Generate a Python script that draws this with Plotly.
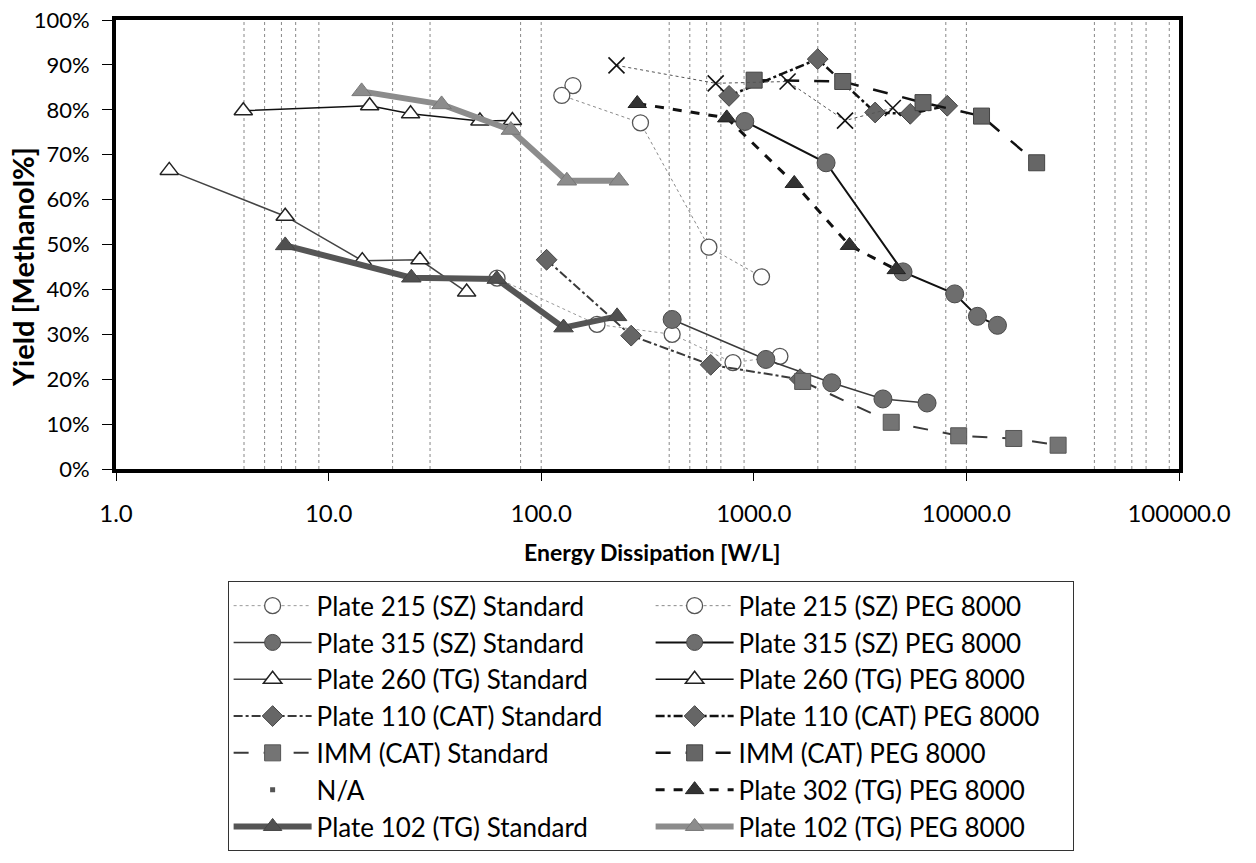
import plotly.graph_objects as go

# ---- data (Energy Dissipation [W/L], Yield [%]) ----
p215_std_x = [62, 183, 413, 798, 1327]
p215_std_y = [42.5, 32.2, 30.0, 23.7, 25.1]
p215_peg_x = [141, 125, 293, 615, 1087]
p215_peg_y = [85.4, 83.2, 77.1, 49.4, 42.8]
p315_std_x = [413, 1140, 2325, 4050, 6530]
p315_std_y = [33.3, 24.4, 19.2, 15.6, 14.7]
p315_peg_x = [907, 2187, 5034, 8810, 11270, 14000]
p315_peg_y = [77.4, 68.2, 43.9, 39.0, 34.0, 32.0]
p260_std_x = [1.78, 6.25, 14.4, 26.9, 44.6]
p260_std_y = [66.5, 56.3, 46.4, 46.6, 39.4]
p260_peg_x = [3.97, 15.6, 24.3, 51.5, 73.2]
p260_peg_y = [79.8, 80.9, 79.1, 77.5, 77.6]
p110_std_x = [106, 265, 627, 1650]
p110_std_y = [46.6, 29.7, 23.2, 20.0]
p110_peg_x = [765, 1998, 3722, 5444, 8128]
p110_peg_y = [83.1, 91.3, 79.4, 79.1, 80.9]
imm_std_x = [1698, 4430, 9200, 16700, 27000]
imm_std_y = [19.5, 10.4, 7.4, 6.8, 5.3]
imm_peg_x = [1004, 2620, 6250, 11780, 21400]
imm_peg_y = [86.6, 86.3, 81.6, 78.6, 68.2]
na_x = [226, 662, 1442, 2686, 4508]
na_y = [89.9, 85.9, 86.3, 77.6, 80.4]
p302_peg_x = [283, 746, 1550, 2818, 4677]
p302_peg_y = [81.4, 78.2, 63.6, 49.8, 44.4]
p102_std_x = [6.25, 24.5, 61.8, 127.4, 227.5]
p102_std_y = [49.8, 42.6, 42.3, 31.5, 34.0]
p102_peg_x = [14.3, 34, 72, 132, 232]
p102_peg_y = [84.1, 81.2, 75.5, 64.2, 64.2]

grid_x = [4, 5, 6, 7, 9, 20, 30, 80, 100, 400, 500, 600, 700, 900,
          2000, 3000, 8000, 10000, 40000, 50000, 60000, 70000, 90000]
x_tickvals = [1, 10, 100, 1000, 10000, 100000]
x_ticktext = ["1.0", "10.0", "100.0", "1000.0", "10000.0", "100000.0"]
y_tickvals = [0, 10, 20, 30, 40, 50, 60, 70, 80, 90, 100]
y_ticktext = ["0%", "10%", "20%", "30%", "40%", "50%", "60%", "70%", "80%", "90%", "100%"]
x_title = "Energy Dissipation [W/L]"
y_title = "Yield [Methanol%]"

FONT = "Lato, 'Open Sans', sans-serif"

fig = go.Figure()


def add(x, y, name, lcolor, lwidth, dash, symbol, msize, mfill, medge, mew=1.0, showlegend=True):
    fig.add_trace(go.Scatter(
        x=x, y=y, name=name, mode="lines+markers", showlegend=showlegend,
        line=dict(color=lcolor, width=lwidth, dash=dash),
        marker=dict(symbol=symbol, size=msize, color=mfill,
                    line=dict(color=medge, width=mew)),
    ))


add(p215_std_x, p215_std_y, "Plate 215 (SZ) Standard", "#9a9a9a", 1, "dot",
    "circle", 16, "white", "#555", 1.3)
add(p215_peg_x, p215_peg_y, "Plate 215 (SZ) PEG 8000", "#8a8a8a", 1, "dot",
    "circle", 16, "white", "#555", 1.3)
add(p315_std_x, p315_std_y, "Plate 315 (SZ) Standard", "#3a3a3a", 1.5, "solid",
    "circle", 18, "#6e6e6e", "#4a4a4a", 1)
add(p315_peg_x, p315_peg_y, "Plate 315 (SZ) PEG 8000", "#111", 2, "solid",
    "circle", 18, "#6e6e6e", "#4a4a4a", 1)
add(p260_std_x, p260_std_y, "Plate 260 (TG) Standard", "#444", 1.5, "solid",
    "triangle-up", 16, "white", "#222", 1.5)
add(p260_peg_x, p260_peg_y, "Plate 260 (TG) PEG 8000", "#111", 1.5, "solid",
    "triangle-up", 16, "white", "#222", 1.5)
add(p110_std_x, p110_std_y, "Plate 110 (CAT) Standard", "#3a3a3a", 2, "dashdot",
    "diamond", 16, "#666", "#444", 1)
add(p110_peg_x, p110_peg_y, "Plate 110 (CAT) PEG 8000", "#111", 2.5, "dashdot",
    "diamond", 16, "#666", "#444", 1)
add(imm_std_x, imm_std_y, "IMM (CAT) Standard", "#3a3a3a", 2, "longdash",
    "square", 16, "#747474", "#555", 1)
add(imm_peg_x, imm_peg_y, "IMM (CAT) PEG 8000", "#111", 2.5, "longdash",
    "square", 16, "#666", "#444", 1)
# N/A legend entry (small dash symbol)
fig.add_trace(go.Scatter(x=[None], y=[None], name="N/A", mode="markers",
                         marker=dict(symbol="square", size=5, color="#555")))
add(p302_peg_x, p302_peg_y, "Plate 302 (TG) PEG 8000", "#111", 3, "dash",
    "triangle-up", 16, "#333", "#222", 1)
add(p102_std_x, p102_std_y, "Plate 102 (TG) Standard", "#555", 6, "solid",
    "triangle-up", 17, "#505050", "#444", 1)
add(p102_peg_x, p102_peg_y, "Plate 102 (TG) PEG 8000", "#8c8c8c", 6, "solid",
    "triangle-up", 17, "#8c8c8c", "#777", 1)
# X-marker series (no own legend symbol; listed as N/A)
fig.add_trace(go.Scatter(
    x=na_x, y=na_y, name="N/A", mode="lines+markers", showlegend=False,
    line=dict(color="#555", width=1, dash="dot"),
    marker=dict(symbol="x-thin", size=16, line=dict(color="#111", width=1.6)),
))

shapes = [dict(type="line", xref="x", yref="paper", x0=v, x1=v, y0=0, y1=1,
               line=dict(color="#888", width=1, dash="dot"), layer="below")
          for v in grid_x]

annotations = [
    dict(text="<b>%s</b>" % x_title, xref="paper", yref="paper",
         x=0.504, y=-0.185, xanchor="center", yanchor="middle",
         showarrow=False, font=dict(family=FONT, size=23, color="black")),
    dict(text="<b>%s</b>" % y_title, xref="paper", yref="paper",
         x=-0.0875, y=0.45, xanchor="center", yanchor="middle", textangle=-90,
         showarrow=False, font=dict(family=FONT, size=29, color="black")),
]

fig.update_layout(
    width=1256, height=863,
    margin=dict(l=116, r=77, t=20, b=379),
    paper_bgcolor="white", plot_bgcolor="white",
    font=dict(family=FONT, size=23, color="black"),
    shapes=shapes,
    annotations=annotations,
    showlegend=True,
    legend=dict(
        orientation="h", x=0.105, xanchor="left", y=-0.25, yanchor="top",
        entrywidth=329, entrywidthmode="pixels", itemwidth=78,
        traceorder="normal",
        bordercolor="#333", borderwidth=1, bgcolor="white",
        font=dict(family=FONT, size=26, color="black"),
        tracegroupgap=0,
    ),
    xaxis=dict(
        type="log", range=[0, 5], automargin=False,
        tickvals=x_tickvals, ticktext=x_ticktext,
        tickfont=dict(size=24),
        showgrid=False, zeroline=False,
        showline=True, linewidth=4, linecolor="black", mirror=True,
        ticks="outside", ticklen=8, tickwidth=1, tickcolor="black",
        ticklabelstandoff=12,
    ),
    yaxis=dict(
        range=[0, 100], automargin=False,
        tickvals=y_tickvals, ticktext=y_ticktext,
        tickfont=dict(size=22),
        showgrid=False, zeroline=False,
        showline=True, linewidth=4, linecolor="black", mirror=True,
        ticks="outside", ticklen=10, tickwidth=1, tickcolor="black",
        ticklabelstandoff=8,
    ),
)

fig.write_html("out.html")
